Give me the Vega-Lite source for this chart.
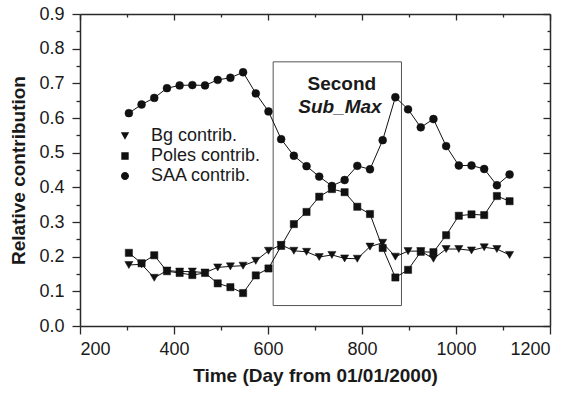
{
  "$schema": "https://vega.github.io/schema/vega-lite/v6.json",
  "width": 470,
  "height": 312,
  "autosize": {"type": "none"},
  "padding": {"left": 80, "top": 14, "right": 24, "bottom": 67},
  "background": "white",
  "config": {
    "view": {"stroke": null},
    "font": "Liberation Sans",
    "axis": {
      "labelFont": "Liberation Sans",
      "titleFont": "Liberation Sans",
      "labelFontSize": 18,
      "titleFontSize": 19,
      "titleFontWeight": "bold",
      "labelColor": "#1a1a1a",
      "titleColor": "#1a1a1a",
      "domainColor": "#2a2a2a",
      "tickColor": "#2a2a2a",
      "domainWidth": 1.5,
      "tickWidth": 1.3,
      "grid": false
    },
    "legend": {"labelFont": "Liberation Sans"}
  },
  "datasets": {
    "series": [
      {"day": 304, "s": "SAA contrib.", "v": 0.614}, {"day": 331, "s": "SAA contrib.", "v": 0.639}, {"day": 358, "s": "SAA contrib.", "v": 0.658}, {"day": 385, "s": "SAA contrib.", "v": 0.686}, {"day": 412, "s": "SAA contrib.", "v": 0.694}, {"day": 439, "s": "SAA contrib.", "v": 0.695}, {"day": 466, "s": "SAA contrib.", "v": 0.694}, {"day": 493, "s": "SAA contrib.", "v": 0.710}, {"day": 520, "s": "SAA contrib.", "v": 0.716}, {"day": 547, "s": "SAA contrib.", "v": 0.732},
      {"day": 574, "s": "SAA contrib.", "v": 0.671}, {"day": 601, "s": "SAA contrib.", "v": 0.619}, {"day": 628, "s": "SAA contrib.", "v": 0.539}, {"day": 655, "s": "SAA contrib.", "v": 0.491}, {"day": 682, "s": "SAA contrib.", "v": 0.461}, {"day": 709, "s": "SAA contrib.", "v": 0.431}, {"day": 736, "s": "SAA contrib.", "v": 0.404}, {"day": 763, "s": "SAA contrib.", "v": 0.421}, {"day": 790, "s": "SAA contrib.", "v": 0.462}, {"day": 817, "s": "SAA contrib.", "v": 0.452},
      {"day": 844, "s": "SAA contrib.", "v": 0.536}, {"day": 871, "s": "SAA contrib.", "v": 0.660}, {"day": 898, "s": "SAA contrib.", "v": 0.625}, {"day": 925, "s": "SAA contrib.", "v": 0.573}, {"day": 952, "s": "SAA contrib.", "v": 0.597}, {"day": 979, "s": "SAA contrib.", "v": 0.519}, {"day": 1006, "s": "SAA contrib.", "v": 0.463}, {"day": 1033, "s": "SAA contrib.", "v": 0.463}, {"day": 1060, "s": "SAA contrib.", "v": 0.453}, {"day": 1087, "s": "SAA contrib.", "v": 0.406}, {"day": 1114, "s": "SAA contrib.", "v": 0.437},
      {"day": 304, "s": "Poles contrib.", "v": 0.211}, {"day": 331, "s": "Poles contrib.", "v": 0.181}, {"day": 358, "s": "Poles contrib.", "v": 0.204}, {"day": 385, "s": "Poles contrib.", "v": 0.158}, {"day": 412, "s": "Poles contrib.", "v": 0.153}, {"day": 439, "s": "Poles contrib.", "v": 0.147}, {"day": 466, "s": "Poles contrib.", "v": 0.153}, {"day": 493, "s": "Poles contrib.", "v": 0.123}, {"day": 520, "s": "Poles contrib.", "v": 0.112}, {"day": 547, "s": "Poles contrib.", "v": 0.095},
      {"day": 574, "s": "Poles contrib.", "v": 0.146}, {"day": 601, "s": "Poles contrib.", "v": 0.166}, {"day": 628, "s": "Poles contrib.", "v": 0.231}, {"day": 655, "s": "Poles contrib.", "v": 0.294}, {"day": 682, "s": "Poles contrib.", "v": 0.329}, {"day": 709, "s": "Poles contrib.", "v": 0.373}, {"day": 736, "s": "Poles contrib.", "v": 0.395}, {"day": 763, "s": "Poles contrib.", "v": 0.386}, {"day": 790, "s": "Poles contrib.", "v": 0.344}, {"day": 817, "s": "Poles contrib.", "v": 0.323},
      {"day": 844, "s": "Poles contrib.", "v": 0.225}, {"day": 871, "s": "Poles contrib.", "v": 0.140}, {"day": 898, "s": "Poles contrib.", "v": 0.162}, {"day": 925, "s": "Poles contrib.", "v": 0.214}, {"day": 952, "s": "Poles contrib.", "v": 0.213}, {"day": 979, "s": "Poles contrib.", "v": 0.262}, {"day": 1006, "s": "Poles contrib.", "v": 0.318}, {"day": 1033, "s": "Poles contrib.", "v": 0.322}, {"day": 1060, "s": "Poles contrib.", "v": 0.320}, {"day": 1087, "s": "Poles contrib.", "v": 0.375}, {"day": 1114, "s": "Poles contrib.", "v": 0.360},
      {"day": 304, "s": "Bg contrib.", "v": 0.176}, {"day": 331, "s": "Bg contrib.", "v": 0.178}, {"day": 358, "s": "Bg contrib.", "v": 0.139}, {"day": 385, "s": "Bg contrib.", "v": 0.160}, {"day": 412, "s": "Bg contrib.", "v": 0.157}, {"day": 439, "s": "Bg contrib.", "v": 0.157}, {"day": 466, "s": "Bg contrib.", "v": 0.154}, {"day": 493, "s": "Bg contrib.", "v": 0.169}, {"day": 520, "s": "Bg contrib.", "v": 0.172}, {"day": 547, "s": "Bg contrib.", "v": 0.174},
      {"day": 574, "s": "Bg contrib.", "v": 0.188}, {"day": 601, "s": "Bg contrib.", "v": 0.217}, {"day": 628, "s": "Bg contrib.", "v": 0.234}, {"day": 655, "s": "Bg contrib.", "v": 0.217}, {"day": 682, "s": "Bg contrib.", "v": 0.214}, {"day": 709, "s": "Bg contrib.", "v": 0.199}, {"day": 736, "s": "Bg contrib.", "v": 0.205}, {"day": 763, "s": "Bg contrib.", "v": 0.195}, {"day": 790, "s": "Bg contrib.", "v": 0.194}, {"day": 817, "s": "Bg contrib.", "v": 0.229},
      {"day": 844, "s": "Bg contrib.", "v": 0.240}, {"day": 871, "s": "Bg contrib.", "v": 0.200}, {"day": 898, "s": "Bg contrib.", "v": 0.216}, {"day": 925, "s": "Bg contrib.", "v": 0.216}, {"day": 952, "s": "Bg contrib.", "v": 0.194}, {"day": 979, "s": "Bg contrib.", "v": 0.222}, {"day": 1006, "s": "Bg contrib.", "v": 0.222}, {"day": 1033, "s": "Bg contrib.", "v": 0.218}, {"day": 1060, "s": "Bg contrib.", "v": 0.227}, {"day": 1087, "s": "Bg contrib.", "v": 0.222}, {"day": 1114, "s": "Bg contrib.", "v": 0.205}
    ],
    "box": [{"x1": 611, "x2": 884, "y1": 0.059, "y2": 0.762}],
    "notes": [
      {"day": 757, "v": 0.681, "t": "Second"},
      {"day": 753, "v": 0.614, "t": "Sub_Max"}
    ]
  },
  "layer": [
    {
      "data": {"name": "box"},
      "mark": {"type": "rect", "filled": false, "stroke": "#555555", "strokeWidth": 1},
      "encoding": {
        "x": {"field": "x1", "type": "quantitative", "scale": {"domain": [200, 1200], "nice": false}, "axis": null},
        "x2": {"field": "x2"},
        "y": {"field": "y1", "type": "quantitative", "scale": {"domain": [0, 0.9], "nice": false}, "axis": null},
        "y2": {"field": "y2"}
      }
    },
    {
      "data": {"name": "series"},
      "mark": {"type": "line", "color": "#111111", "strokeWidth": 1},
      "encoding": {
        "x": {
          "field": "day", "type": "quantitative",
          "scale": {"domain": [200, 1200], "nice": false},
          "axis": {
            "orient": "bottom",
            "title": "Time (Day from 01/01/2000)",
            "values": [200, 300, 400, 500, 600, 700, 800, 900, 1000, 1100, 1200],
            "labelExpr": "datum.value % 200 === 0 ? datum.label : ''",
            "format": "d",
            "tickSize": {"condition": {"test": "datum.value % 200 === 0", "value": 8}, "value": 4},
            "labelPadding": 6,
            "titlePadding": 8
          }
        },
        "y": {
          "field": "v", "type": "quantitative",
          "scale": {"domain": [0, 0.9], "nice": false},
          "axis": {
            "orient": "left",
            "title": "Relative contribution",
            "values": [0, 0.05, 0.1, 0.15, 0.2, 0.25, 0.3, 0.35, 0.4, 0.45, 0.5, 0.55, 0.6, 0.65, 0.7, 0.75, 0.8, 0.85, 0.9],
            "labelExpr": "round(datum.value * 100) % 10 === 0 ? format(datum.value, '.1f') : ''",
            "tickSize": {"condition": {"test": "round(datum.value * 100) % 10 === 0", "value": 8}, "value": 4},
            "labelPadding": 8,
            "titlePadding": 10
          }
        },
        "detail": {"field": "s", "type": "nominal"}
      }
    },
    {
      "data": {"name": "series"},
      "transform": [{"filter": "datum.s === 'Bg contrib.'"}],
      "mark": {"type": "point", "shape": "triangle-down", "filled": true, "color": "#111111", "opacity": 1, "stroke": "#111111", "strokeWidth": 0.5, "size": 66},
      "encoding": {
        "x": {"field": "day", "type": "quantitative", "axis": null},
        "y": {"field": "v", "type": "quantitative", "axis": null}
      }
    },
    {
      "data": {"name": "series"},
      "transform": [{"filter": "datum.s === 'Poles contrib.'"}],
      "mark": {"type": "point", "shape": "square", "filled": true, "color": "#111111", "opacity": 1, "stroke": "#111111", "strokeWidth": 0.5, "size": 52},
      "encoding": {
        "x": {"field": "day", "type": "quantitative", "axis": null},
        "y": {"field": "v", "type": "quantitative", "axis": null}
      }
    },
    {
      "data": {"name": "series"},
      "transform": [{"filter": "datum.s === 'SAA contrib.'"}],
      "mark": {"type": "point", "shape": "circle", "filled": true, "color": "#111111", "opacity": 1, "stroke": "#111111", "strokeWidth": 0.5, "size": 62},
      "encoding": {
        "x": {"field": "day", "type": "quantitative", "axis": null},
        "y": {"field": "v", "type": "quantitative", "axis": null}
      }
    },
    {
      "data": {"name": "series"},
      "transform": [{"filter": "datum.day < 0"}],
      "mark": {"type": "point", "filled": true, "color": "#111111", "opacity": 1, "stroke": "#111111", "strokeWidth": 1},
      "encoding": {
        "x": {"field": "day", "type": "quantitative", "axis": null},
        "y": {"field": "v", "type": "quantitative", "axis": null},
        "shape": {
          "field": "s", "type": "nominal",
          "scale": {
            "domain": ["Bg contrib.", "Poles contrib.", "SAA contrib."],
            "range": [
              "M-4.1,0L4.1,0M0,0.66L0.76,-0.66L-0.76,-0.66Z",
              "M-4.1,0L4.1,0M-0.67,-0.67L0.67,-0.67L0.67,0.67L-0.67,0.67Z",
              "M-4.1,0L4.1,0M0.73,0A0.73,0.73 0 1,1 -0.73,0A0.73,0.73 0 1,1 0.73,0Z"
            ]
          },
          "legend": {
            "title": null,
            "orient": "none",
            "legendX": 36,
            "legendY": 113,
            "padding": 0,
            "symbolSize": 121,
            "symbolFillColor": "#111111",
            "symbolStrokeColor": "#111111",
            "symbolStrokeWidth": 1,
            "symbolOpacity": 1,
            "labelFontSize": 18,
            "labelColor": "#1a1a1a",
            "labelOffset": 17,
            "rowPadding": 2,
            "encode": {
              "symbols": {
                "stroke": {"value": "#111111"},
                "strokeWidth": {"value": 1},
                "fill": {"value": "#111111"},
                "opacity": {"value": 1}
              }
            }
          }
        },
        "size": {"value": 121}
      }
    },
    {
      "data": {"name": "notes"},
      "transform": [{"filter": "datum.t === 'Second'"}],
      "mark": {"type": "text", "font": "Liberation Sans", "fontSize": 19, "fontWeight": "bold", "baseline": "alphabetic", "align": "center", "color": "#1a1a1a"},
      "encoding": {
        "x": {"field": "day", "type": "quantitative", "axis": null},
        "y": {"field": "v", "type": "quantitative", "axis": null},
        "text": {"field": "t"}
      }
    },
    {
      "data": {"name": "notes"},
      "transform": [{"filter": "datum.t === 'Sub_Max'"}],
      "mark": {"type": "text", "font": "Liberation Sans", "fontSize": 19, "fontWeight": "bold", "fontStyle": "italic", "baseline": "alphabetic", "align": "center", "color": "#1a1a1a"},
      "encoding": {
        "x": {"field": "day", "type": "quantitative", "axis": null},
        "y": {"field": "v", "type": "quantitative", "axis": null},
        "text": {"field": "t"}
      }
    },
    {
      "data": {"name": "series"},
      "mark": {"type": "point", "opacity": 0},
      "encoding": {
        "x": {
          "field": "day", "type": "quantitative",
          "axis": {
            "orient": "top", "title": null, "labels": false,
            "values": [200, 300, 400, 500, 600, 700, 800, 900, 1000, 1100, 1200],
            "tickSize": {"condition": {"test": "datum.value % 200 === 0", "value": -6}, "value": -3}
          }
        },
        "y": {
          "field": "v", "type": "quantitative",
          "axis": {
            "orient": "right", "title": null, "labels": false,
            "values": [0, 0.05, 0.1, 0.15, 0.2, 0.25, 0.3, 0.35, 0.4, 0.45, 0.5, 0.55, 0.6, 0.65, 0.7, 0.75, 0.8, 0.85, 0.9],
            "tickSize": {"condition": {"test": "round(datum.value * 100) % 10 === 0", "value": -7}, "value": -3}
          }
        }
      }
    }
  ],
  "resolve": {
    "axis": {"x": "independent", "y": "independent"}
  }
}
